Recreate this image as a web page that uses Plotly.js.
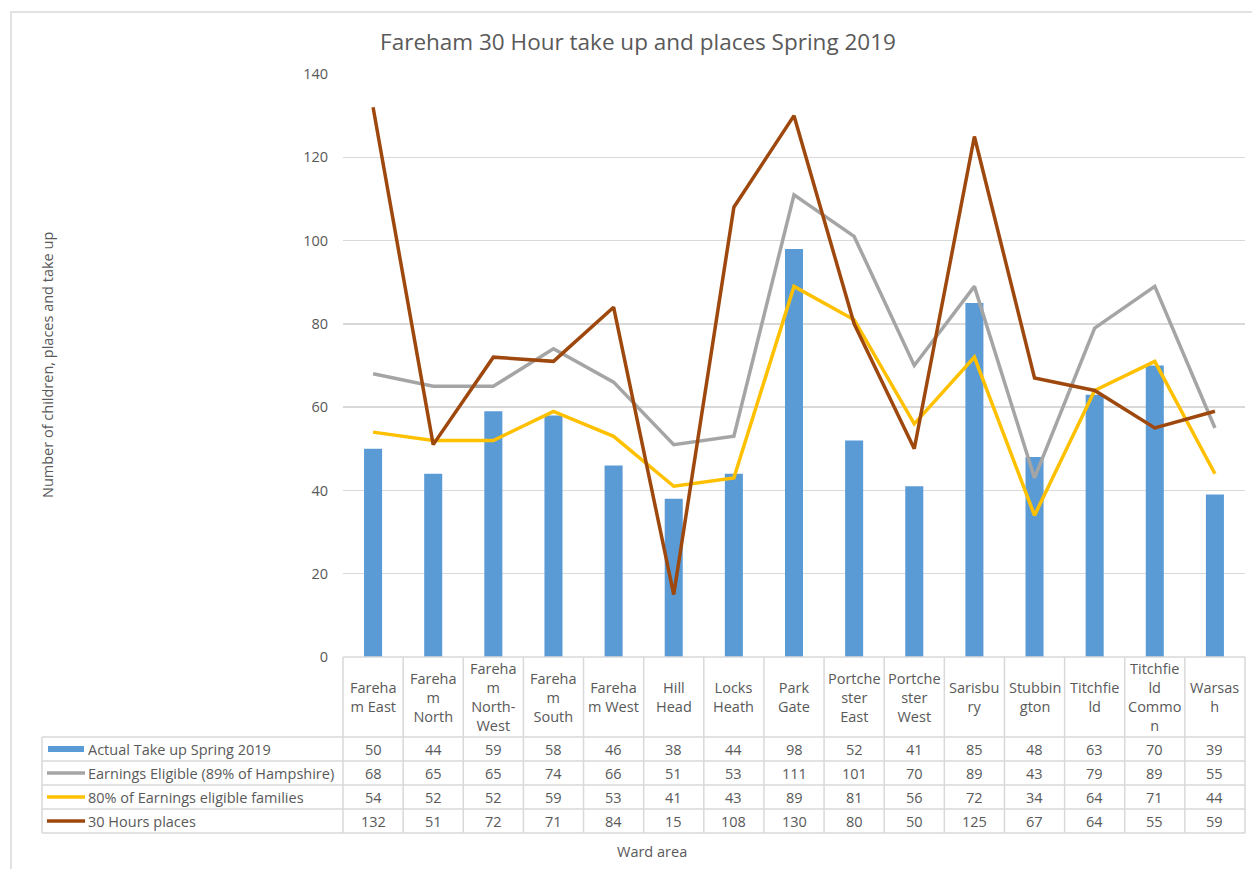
<!DOCTYPE html>
<html>
<head>
<meta charset="utf-8">
<script src="https://cdn.plot.ly/plotly-3.0.1.min.js"></script>
<style>html,body{margin:0;padding:0;background:#fff;}#chart{width:1252px;height:869px;}</style>
</head>
<body>
<div id="chart"></div>
<script>
var categories = ["Fareham East","Fareham North","Fareham North-West","Fareham South","Fareham West","Hill Head","Locks Heath","Park Gate","Portchester East","Portchester West","Sarisbury","Stubbington","Titchfield","Titchfield Common","Warsash"];
var categoryLabels = ["Fareha<br>m East","Fareha<br>m<br>North","Fareha<br>m<br>North-<br>West","Fareha<br>m<br>South","Fareha<br>m West","Hill<br>Head","Locks<br>Heath","Park<br>Gate","Portche<br>ster<br>East","Portche<br>ster<br>West","Sarisbu<br>ry","Stubbin<br>gton","Titchfie<br>ld","Titchfie<br>ld<br>Commo<br>n","Warsas<br>h"];
var seriesNames = ["Actual Take up Spring 2019","Earnings Eligible (89% of Hampshire)","80% of Earnings eligible families","30 Hours places"];
var actualTakeUp = [50,44,59,58,46,38,44,98,52,41,85,48,63,70,39];
var earningsEligible = [68,65,65,74,66,51,53,111,101,70,89,43,79,89,55];
var eightyPercent = [54,52,52,59,53,41,43,89,81,56,72,34,64,71,44];
var hoursPlaces = [132,51,72,71,84,15,108,130,80,50,125,67,64,55,59];
var yTicks = [0,20,40,60,80,100,120,140];

var W = 1252, H = 869;
var L = 343, R = 1245, T = 74, B = 657;
function px(x){ return (x - L) / (R - L); }
function py(y){ return (B - y) / (B - T); }

var colors = ["#5B9BD5","#A5A5A5","#FFC000","#9E480E"];
var txt = "#595959", grid = "#D9D9D9";
var FONT = "'Open Sans', Lato, sans-serif";
var FS = 14.5;

var traces = [
  {type:"bar", x:categories, y:actualTakeUp, name:seriesNames[0], marker:{color:colors[0]}, hoverinfo:"y"},
  {type:"scatter", mode:"lines", x:categories, y:earningsEligible, name:seriesNames[1], line:{color:colors[1], width:3.5}},
  {type:"scatter", mode:"lines", x:categories, y:eightyPercent, name:seriesNames[2], line:{color:colors[2], width:3.5}},
  {type:"scatter", mode:"lines", x:categories, y:hoursPlaces, name:seriesNames[3], line:{color:colors[3], width:3.5}}
];

var shapes = [];
var annotations = [];
shapes.push({type:"rect", xref:"paper", yref:"paper", x0:px(11), x1:px(1300), y0:py(12), y1:py(900), line:{color:grid, width:1.5}});
var rowTops = [737,761,785,809,833];
shapes.push({type:"line", xref:"paper", yref:"paper", x0:0, x1:1, y0:0, y1:0, line:{color:grid, width:1.5}});
rowTops.forEach(function(y){
  shapes.push({type:"line", xref:"paper", yref:"paper", x0:px(42), x1:1, y0:py(y), y1:py(y), line:{color:grid, width:1.5}});
});
for (var i=0;i<=categories.length;i++){
  shapes.push({type:"line", xref:"paper", yref:"paper", x0:i/categories.length, x1:i/categories.length, y0:0, y1:py(833), line:{color:grid, width:1.5}});
}
shapes.push({type:"line", xref:"paper", yref:"paper", x0:px(42), x1:px(42), y0:py(737), y1:py(833), line:{color:grid, width:1.5}});

categories.forEach(function(c,i){
  annotations.push({xref:"x", yref:"paper", x:c, y:py(697), text:categoryLabels[i], showarrow:false, xanchor:"center", yanchor:"middle", align:"center", font:{family:FONT, size:FS, color:txt}});
});
var rows = [actualTakeUp, earningsEligible, eightyPercent, hoursPlaces];
var rowCenters = [749,773,797,821];
rows.forEach(function(vals, r){
  vals.forEach(function(v,i){
    annotations.push({xref:"x", yref:"paper", x:categories[i], y:py(rowCenters[r]), text:String(v), showarrow:false, xanchor:"center", yanchor:"middle", font:{family:FONT, size:FS, color:txt}});
  });
  if (r === 0) {
    shapes.push({type:"rect", xref:"paper", yref:"paper", x0:px(48), x1:px(84), y0:py(rowCenters[r]-3), y1:py(rowCenters[r]+3), fillcolor:colors[0], line:{width:0}});
  } else {
    shapes.push({type:"line", xref:"paper", yref:"paper", x0:px(47), x1:px(85), y0:py(rowCenters[r]), y1:py(rowCenters[r]), line:{color:colors[r], width:3.5}});
  }
  annotations.push({xref:"paper", yref:"paper", x:px(86), y:py(rowCenters[r]), text:seriesNames[r], showarrow:false, xanchor:"left", yanchor:"middle", font:{family:FONT, size:FS, color:txt}});
});

annotations.push({xref:"paper", yref:"paper", x:px(652), y:py(851), text:"Ward area", showarrow:false, xanchor:"center", yanchor:"middle", font:{family:FONT, size:FS, color:txt}});
annotations.push({xref:"paper", yref:"paper", x:px(47), y:py(365), text:"Number of children, places and take up", textangle:-90, showarrow:false, xanchor:"center", yanchor:"middle", font:{family:FONT, size:FS, color:txt}});

var layout = {
  width:W, height:H,
  margin:{l:L, r:W-R, t:T, b:H-B, pad:0},
  paper_bgcolor:"#fff", plot_bgcolor:"#fff",
  title:{text:"Fareham 30 Hour take up and places Spring 2019", x:px(638), xref:"paper", xanchor:"center", y:1-42/H, yanchor:"middle", font:{family:FONT, size:22.5, color:txt}},
  showlegend:false,
  bargap:0.7,
  xaxis:{type:"category", categoryorder:"array", categoryarray:categories, showticklabels:false, showgrid:false, zeroline:false, showline:false, ticks:"", fixedrange:true},
  yaxis:{range:[0,140], tickvals:yTicks, ticktext:yTicks.map(String), showgrid:true, gridcolor:grid, gridwidth:1.5, zeroline:false, showline:false, ticks:"", ticklabelstandoff:14, tickfont:{family:FONT, size:FS, color:txt}, fixedrange:true},
  shapes:shapes,
  annotations:annotations
};

Plotly.newPlot("chart", traces, layout, {displayModeBar:false, staticPlot:true});
</script>
</body>
</html>
